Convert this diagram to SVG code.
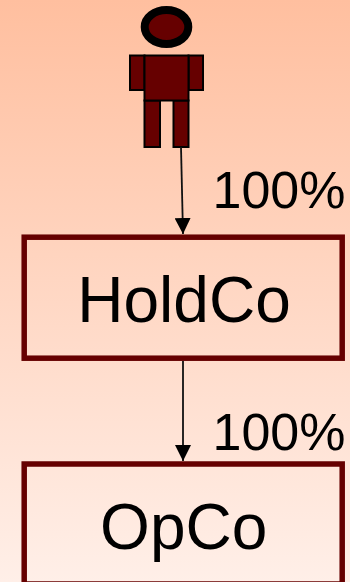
<svg xmlns="http://www.w3.org/2000/svg" width="350" height="582" viewBox="0 0 350 582">
  <defs>
    <linearGradient id="bg" x1="0" y1="0" x2="0" y2="1">
      <stop offset="0" stop-color="#ffbf9f"/>
      <stop offset="1" stop-color="#ffefe8"/>
    </linearGradient>
    <marker id="arrow" markerUnits="userSpaceOnUse" markerWidth="16" markerHeight="16" refX="16" refY="8" orient="auto">
      <path d="M0 0L16 8L0 16Z" fill="#000"/>
    </marker>
  </defs>
  <style>
    .box { fill: none; stroke: #660000; stroke-width: 5.5; }
    .part { fill: #660000; stroke: #000; stroke-width: 2; }
    .edge { fill: none; stroke: #111; stroke-width: 1.8; marker-end: url(#arrow); }
    text { font-family: "Liberation Sans", Arial, sans-serif; fill: #000; }
    .name { font-size: 64px; text-anchor: middle; }
    .pct { font-size: 52px; }
  </style>
  <rect width="350" height="582" fill="url(#bg)"/>
  <g id="person">
    <ellipse cx="166.5" cy="27" rx="21.8" ry="17" fill="#660000" stroke="#000" stroke-width="8"/>
    <rect class="part" x="130" y="55.5" width="14.5" height="34.5"/>
    <rect class="part" x="188.5" y="55.5" width="14.5" height="34.5"/>
    <rect class="part" x="144.5" y="100.5" width="15.5" height="46.5"/>
    <rect class="part" x="173.5" y="100.5" width="15" height="46.5"/>
    <rect class="part" x="144.5" y="55.5" width="44" height="45"/>
  </g>
  <g id="holdco">
    <rect class="box" x="24.2" y="237.2" width="318" height="121"/>
    <text class="name" x="184" y="321.7">HoldCo</text>
  </g>
  <g id="opco">
    <rect class="box" x="24.2" y="464" width="318" height="120"/>
    <text class="name" x="183.7" y="549">OpCo</text>
  </g>
  <g id="connectors">
    <line class="edge" x1="181" y1="147" x2="183" y2="234"/>
    <line class="edge" x1="183" y1="361" x2="183" y2="461"/>
  </g>
  <g id="labels">
    <text class="pct" x="212.5" y="208">100%</text>
    <text class="pct" x="212.5" y="450">100%</text>
  </g>
</svg>
